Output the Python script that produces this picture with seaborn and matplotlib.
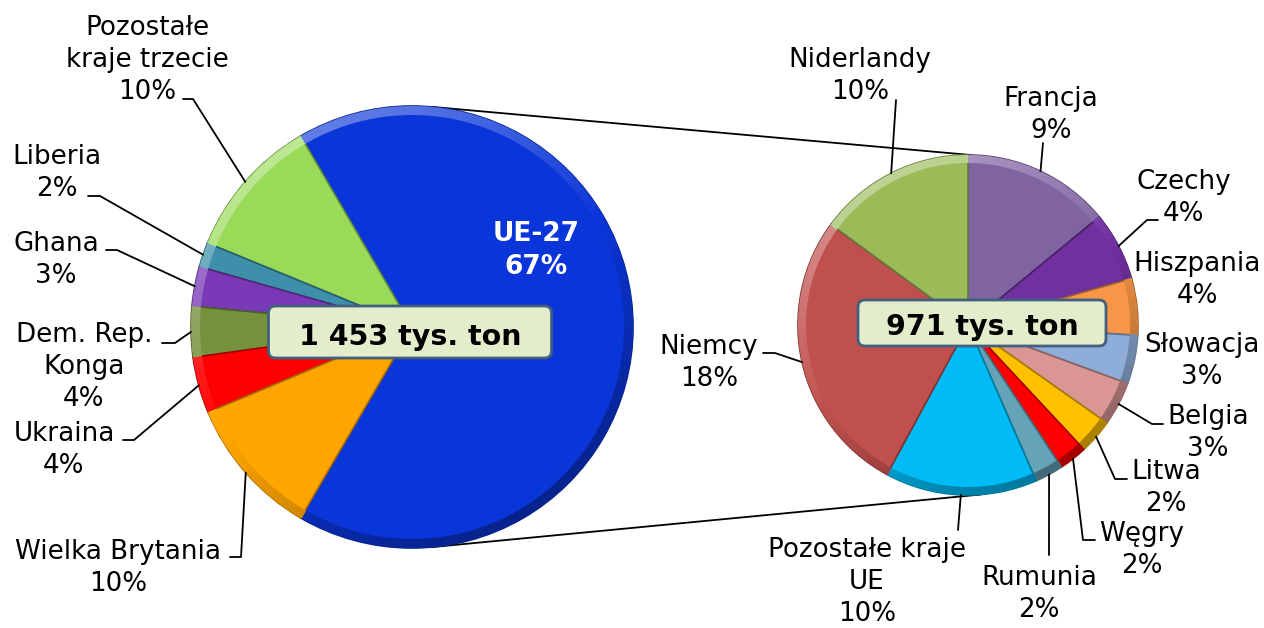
import numpy as np
import seaborn as sns
import matplotlib.pyplot as plt
import matplotlib.colors as mcolors
from matplotlib.patches import FancyBboxPatch, Wedge

# Data: shares of total volume (%)
main_labels = ['UE-27', 'Pozostałe\nkraje trzecie', 'Liberia', 'Ghana',
               'Dem. Rep.\nKonga', 'Ukraina', 'Wielka Brytania']
main_values = [66.8, 10.4, 1.8, 2.9, 3.7, 4.1, 10.3]
main_colors = ['#0A35D8', '#99DA58', '#3E8FAA', '#7A3AB8',
               '#76923C', '#FF0000', '#FFA500']

eu_labels = ['Francja', 'Czechy', 'Hiszpania', 'Słowacja', 'Belgia', 'Litwa',
             'Węgry', 'Rumunia', 'Pozostałe kraje\nUE', 'Niemcy', 'Niderlandy']
eu_values = [9.4, 4.4, 3.6, 3.1, 2.8, 2.2, 1.8, 1.8, 9.7, 18.2, 10.0]
eu_colors = ['#8064A2', '#7030A0', '#F79646', '#8EADD8', '#D99694', '#FFC000',
             '#FF0000', '#65A3B8', '#00BBF5', '#C0504D', '#9BBB59']

totals = ['1 453 tys. ton', '971 tys. ton']

# layout (pixel coords, y measured from top)
W, H = 1264, 628
main_c, main_r = (412, 327), 221
eu_c, eu_r = (968, 325), 170

# text x-centre, text top, leader points (label side)
main_pos = [None,
            (147, 15, [(183, 99), (193, 99)]),
            (57, 144, [(88, 196), (100, 196)]),
            (56, 231, [(106, 250), (117, 250)]),
            (84, 322, [(162, 343), (175, 343)]),
            (64, 421, [(123, 440), (134, 440)]),
            (118, 539, [(230, 557), (241, 557)])]
eu_pos = [(1051, 86, [(1043, 143)]),
          (1184, 169, [(1158, 220), (1147, 220)]),
          (1197, 251, None),
          (1202, 332, None),
          (1208, 404, [(1163, 424), (1152, 424)]),
          (1166, 459, [(1127, 479), (1115, 479)]),
          (1142, 521, [(1095, 540), (1083, 540)]),
          (1039, 565, [(1049, 555)]),
          (867, 537, [(958, 530)]),
          (709, 334, [(763, 353), (775, 353)]),
          (860, 47, [(896, 100)])]

sns.set_theme(style='white')
plt.rcParams['font.family'] = ['DejaVu Sans']

fig = plt.figure(figsize=(W / 100, H / 100), dpi=100)
ax = fig.add_axes([0, 0, 1, 1])


def Y(y):
    return H - y


def shade(c, f):
    rgb = np.array(mcolors.to_rgb(c))
    if f >= 0:
        return tuple(rgb + (1 - rgb) * f)
    return tuple(rgb * (1 + f))


def edge_point(c, r, w):
    t = np.deg2rad((w.theta1 + w.theta2) / 2)
    return c[0] + r * np.cos(t), c[1] - r * np.sin(t)


def bevel(wedges, colors, c, r, rim=9):
    # lighter rim towards the top-left, darker towards the bottom-right
    for w, col in zip(wedges, colors):
        t1, t2 = w.theta1, w.theta2
        n = max(2, int(np.ceil((t2 - t1) / 2)))
        edges = np.linspace(t1, t2, n + 1)
        for a, b in zip(edges[:-1], edges[1:]):
            k = np.cos(np.deg2rad((a + b) / 2 - 120))
            fc = shade(col, 0.35 * k)
            ax.add_patch(Wedge((c[0], Y(c[1])), r, a, b + 0.3, width=rim,
                               facecolor=fc, edgecolor='none', zorder=2))
        w.set_edgecolor(shade(col, -0.35))


main_start = -main_values[0] * 3.6 / 2
wedges1, _ = ax.pie(main_values, colors=sns.color_palette(main_colors),
                    startangle=main_start, counterclock=True,
                    center=(main_c[0], Y(main_c[1])), radius=main_r,
                    wedgeprops=dict(linewidth=1.2))
wedges2, _ = ax.pie(eu_values, colors=sns.color_palette(eu_colors),
                    startangle=90, counterclock=False,
                    center=(eu_c[0], Y(eu_c[1])), radius=eu_r,
                    wedgeprops=dict(linewidth=1.2))
bevel(wedges1, main_colors, main_c, main_r)
bevel(wedges2, eu_colors, eu_c, eu_r, rim=8)

# connector lines between the pies
for a1, a2 in [(84.5, 89.0), (-84.5, -85.6)]:
    p1 = (main_c[0] + main_r * np.cos(np.deg2rad(a1)), main_c[1] - main_r * np.sin(np.deg2rad(a1)))
    p2 = (eu_c[0] + eu_r * np.cos(np.deg2rad(a2)), eu_c[1] - eu_r * np.sin(np.deg2rad(a2)))
    ax.plot([p1[0], p2[0]], [Y(p1[1]), Y(p2[1])], color='black', lw=1.3, zorder=0)

fs = 18.8
ls = 1.3


def put_labels(labels, values, wedges, pos, c, r):
    for lab, v, w, p in zip(labels, values, wedges, pos):
        if p is None:
            continue
        x, top, lead = p
        ax.text(x, Y(top), f'{lab}\n{round(v)}%', ha='center', va='top',
                multialignment='center', fontsize=fs, linespacing=ls, color='black')
        if lead:
            pts = lead + [edge_point(c, r, w)]
            ax.plot([q[0] for q in pts], [Y(q[1]) for q in pts], color='black', lw=1.3)


put_labels(main_labels, main_values, wedges1, main_pos, main_c, main_r)
put_labels(eu_labels, eu_values, wedges2, eu_pos, eu_c, eu_r)

# UE-27 label inside the slice
ax.text(536, Y(221), f'{main_labels[0]}\n{round(main_values[0])}%', ha='center', va='top',
        fontsize=19, fontweight='bold', color='white', linespacing=1.33, zorder=4)

# total boxes
for (bx, by, bw, bh, ty), txt in zip([(410, 332, 283, 52, 345), (982, 323, 248, 46, 335)], totals):
    box = FancyBboxPatch((bx - bw / 2, Y(by) - bh / 2), bw, bh,
                         boxstyle='round,pad=0,rounding_size=7',
                         facecolor='#E3ECCB', edgecolor='#41607F', lw=2, zorder=5)
    ax.add_patch(box)
    ax.text(bx, Y(ty), txt, ha='center', va='baseline', fontsize=20.5,
            fontweight='bold', color='black', zorder=6)

ax.set_xlim(0, W)
ax.set_ylim(0, H)
ax.set_aspect('equal')
ax.axis('off')

plt.savefig('out.png', dpi=100)
